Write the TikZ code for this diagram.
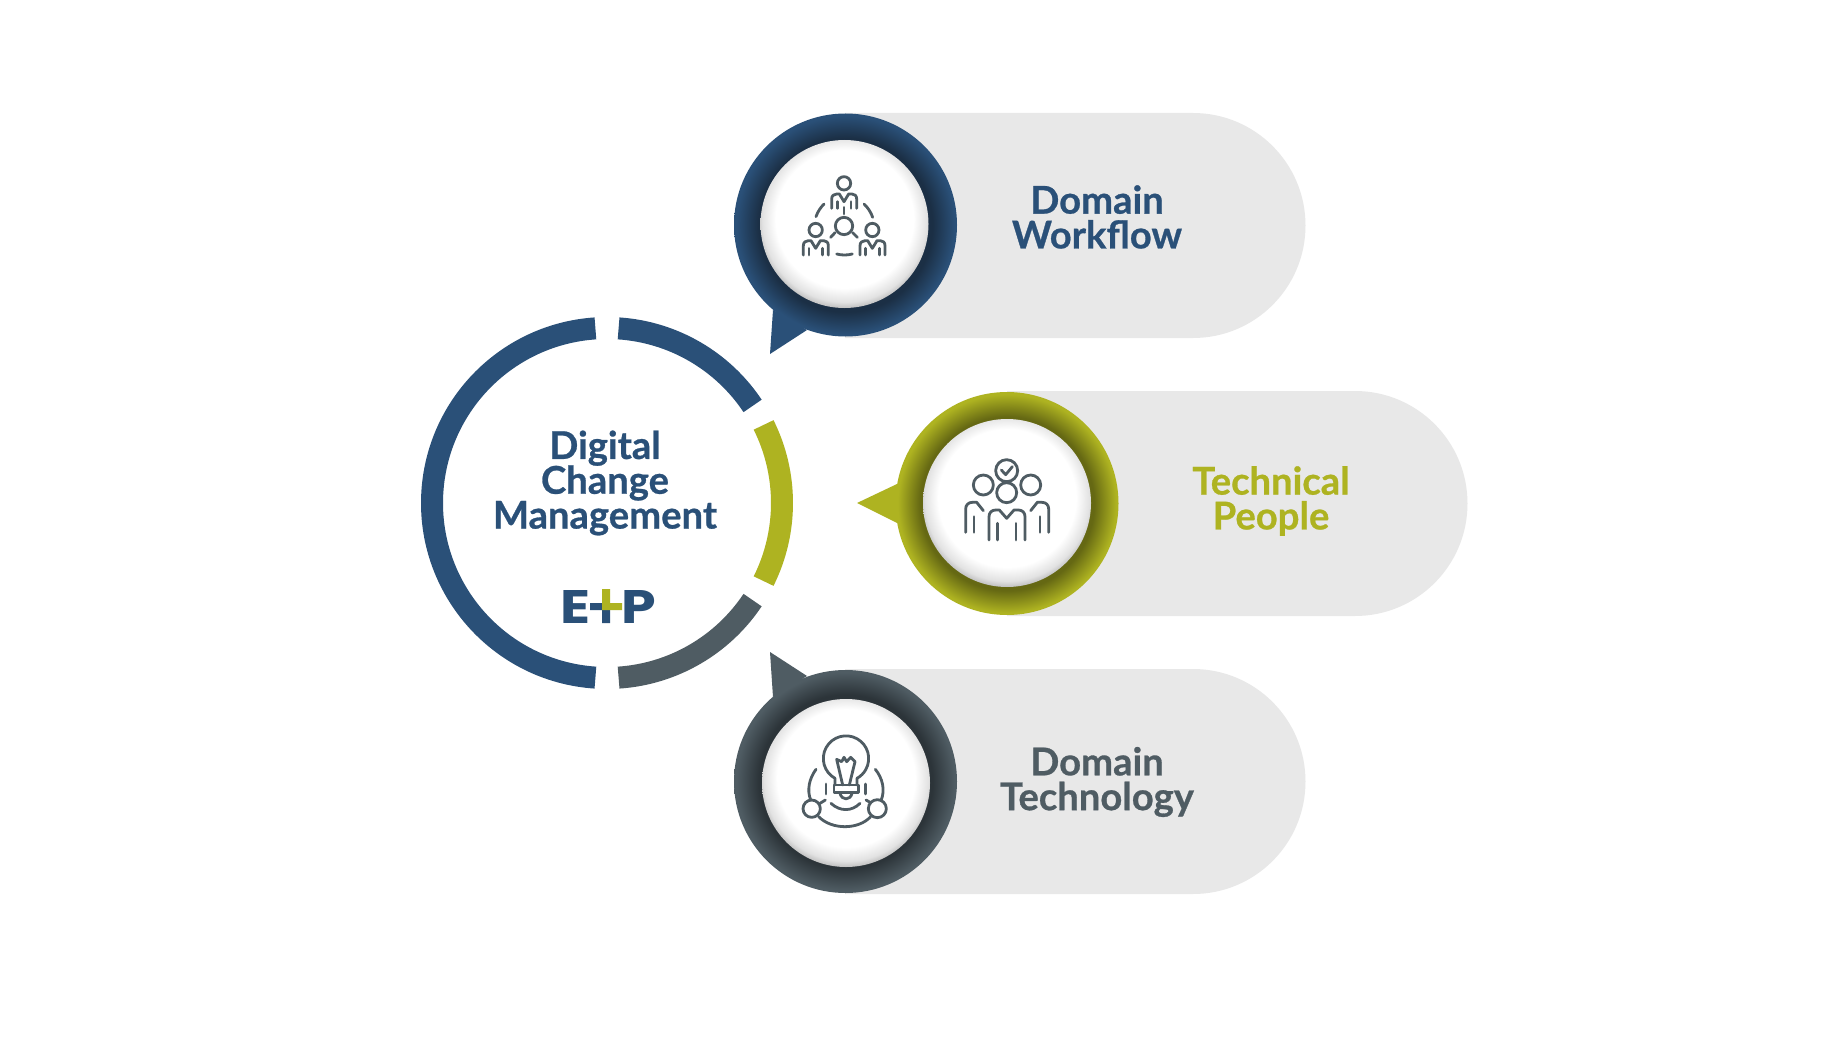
\documentclass[tikz,border=0pt]{standalone}
\usepackage{fontspec}
\setmainfont{Lato}[BoldFeatures={FakeBold=0.7}]
\newfontfamily\logofont{Poppins}[BoldFeatures={FakeStretch=1.18}]
\usetikzlibrary{shadings}
\newcommand{\tightlines}{\setlength{\lineskiplimit}{-50pt}}
\definecolor{navy}{HTML}{2A5078}
\definecolor{navyd}{HTML}{1B2F45}
\definecolor{olive}{HTML}{AEB321}
\definecolor{olived}{HTML}{656813}
\definecolor{slate}{HTML}{4F5C63}
\definecolor{slated}{HTML}{2C3439}
\definecolor{pillgray}{HTML}{E8E8E8}
\definecolor{iconc}{HTML}{4F5C63}
\pgfdeclareradialshading{ringnavy}{\pgfpoint{0bp}{0bp}}{color(0bp)=(navyd);color(19.5bp)=(navyd);color(24.5bp)=(navy);color(50bp)=(navy)}
\pgfdeclareradialshading{ringolive}{\pgfpoint{0bp}{0bp}}{color(0bp)=(olived);color(19.5bp)=(olived);color(24.5bp)=(olive);color(50bp)=(olive)}
\pgfdeclareradialshading{ringslate}{\pgfpoint{0bp}{0bp}}{color(0bp)=(slated);color(19.5bp)=(slated);color(24.5bp)=(slate);color(50bp)=(slate)}
\definecolor{ballm}{HTML}{E2E2E2}
\definecolor{ballo}{HTML}{A6A6A6}
\pgfdeclareradialshading{ball}{\pgfpoint{0bp}{2.5bp}}{color(0bp)=(white);color(20.5bp)=(white);color(24.5bp)=(ballm);color(27.5bp)=(ballo);color(50bp)=(ballo)}
\tikzset{
  pill/.style={fill=pillgray,draw=none},
  ringshape/.style={circle,inner sep=0pt,minimum size=111.5pt,draw=none},
  ballshape/.style={circle,inner sep=0pt,minimum size=84pt,draw=none,shading=ball},
  seg/.style={line width=11pt,line cap=butt},
  lab/.style={align=center,inner sep=0pt,font=\fontsize{19.1}{17.4}\selectfont\bfseries\tightlines},
  logo/.style={inner sep=0pt,anchor=base,text=navy,font=\logofont\fontsize{23.5}{24}\selectfont\bfseries},
  icon/.style={draw=iconc,line width=1.4pt,line cap=round,line join=round},
  personone/.pic={
    \draw[icon] (0,0) circle (20);
    \draw[icon] (-37,75) -- (-37,47) .. controls (-37,37) and (-30,32) .. (-22,32) -- (-14,32) -- (0,55) -- (14,32) -- (24,32) .. controls (32,32) and (38,37) .. (38,47) -- (38,75);
    \draw[icon] (-20,55) -- (-20,75) (21,55) -- (21,75);
  }
}
\begin{document}
\begin{tikzpicture}[x=.5pt,y=-.5pt]
\useasboundingbox[fill=white] (0,0) rectangle (1847,1038);
% central ring
\coordinate (hub) at (607,503);
\draw[seg,navy] (hub) ++(-86.2:175) arc[start angle=-86.2,end angle=-33.7,radius=175];
\draw[seg,olive] (hub) ++(-26.5:175) arc[start angle=-26.5,end angle=26.5,radius=175];
\draw[seg,slate] (hub) ++(33.7:175) arc[start angle=33.7,end angle=86.2,radius=175];
\draw[seg,navy] (hub) ++(93.8:175) arc[start angle=93.8,end angle=266.2,radius=175];
\node[lab,text=navy] (hubtext) at (605,483) {Digital\\Change\\Management};
% logo
\node[logo] (logoe) at (575.5,623) {E};
\node[logo] (logop) at (639,623) {P};
\fill[navy] (590,603) rectangle (603,610) (602,610) rectangle (610,623);
\fill[olive] (602,589) rectangle (610,610) (602,603) rectangle (622,610);
% pills
\fill[pill] (845,113) -- (1193,113) arc[start angle=-90,end angle=90,radius=112.5] -- (845,338) -- cycle;
\fill[pill] (1007,391) -- (1355,391) arc[start angle=-90,end angle=90,radius=112.5] -- (1007,616) -- cycle;
\fill[pill] (845,669) -- (1193,669) arc[start angle=-90,end angle=90,radius=112.5] -- (845,894) -- cycle;
% tails
\fill[navy] (773,310) -- (770,354) -- (807,330) -- cycle;
\fill[olive] (897,484) -- (857,503) -- (897,523) -- cycle;
\fill[slate] (773,697) -- (770,652) -- (807,676) -- cycle;
% discs
\node[ringshape,shading=ringnavy] (wfring) at (845.5,225) {};
\node[ballshape] (wfball) at (844.5,224) {};
\node[ringshape,shading=ringolive] (tpring) at (1007,503.5) {};
\node[ballshape] (tpball) at (1007,503) {};
\node[ringshape,shading=ringslate] (dtring) at (845.5,781.5) {};
\node[ballshape] (dtball) at (846,783) {};
% labels
\node[lab,text=navy] (wflabel) at (1097,217) {Domain\\Workflow};
\node[lab,text=olive] (tplabel) at (1271,501) {Technical\\People};
\node[lab,text=slate] (dtlabel) at (1097,782) {Domain\\Technology};
% icon 1
\begin{scope}[shift={(720,100)},x=.16667pt,y=-.16667pt]
\pic at (372,250) {personone};
\pic at (287,390) {personone};
\pic at (457,390) {personone};
\draw[icon] (372,322) -- (372,342);
\draw[icon] (372,378) circle (26);
\draw[icon] (288,350) .. controls (293,335) and (302,322) .. (312,312);
\draw[icon] (432,312) .. controls (443,322) and (453,337) .. (458,352);
\draw[icon] (332,412) -- (345,398) (398,398) -- (412,412);
\draw[icon] (350,462) .. controls (365,466) and (382,466) .. (397,462);
\end{scope}
% icon 2
\begin{scope}[shift={(840,380)},x=.16667pt,y=-.16667pt]
\draw[icon] (500,272) circle (33);
\draw[icon] (484,270) -- (497,284) -- (517,260);
\draw[icon] (430,315) circle (30) (572,315) circle (30) (500,338) circle (30);
\draw[icon] (447,480) -- (447,410) .. controls (447,398) and (455,390) .. (467,390) -- (478,390) -- (500,415) -- (522,390) -- (535,390) .. controls (547,390) and (555,398) .. (555,410) -- (555,480);
\draw[icon] (472,430) -- (472,480) (528,430) -- (528,480);
\draw[icon] (377,457) -- (377,387) .. controls (377,375) and (385,367) .. (397,367) -- (410,367) -- (430,392);
\draw[icon] (402,410) -- (402,457);
\draw[icon] (626,457) -- (626,387) .. controls (626,375) and (618,367) .. (606,367) -- (592,367) -- (572,392);
\draw[icon] (600,410) -- (600,457);
\end{scope}
% icon 3
\begin{scope}[shift={(720,640)},x=.16667pt,y=-.16667pt]
\draw[icon] (345,435) -- (345,415) arc[start angle=119,end angle=421,radius=68] -- (411,435);
\draw[icon] (342,435) -- (415,435) -- (415,458) -- (342,458) -- cycle;
\draw[icon] (360,460) .. controls (365,482) and (391,482) .. (396,460);
\draw[icon] (368,435) -- (350,358) -- (365,365) -- (372,352) -- (380,365) -- (392,352) -- (405,365) -- (388,435);
\draw[icon] (288,388) .. controls (268,415) and (260,450) .. (272,480);
\draw[icon] (466,388) .. controls (488,415) and (496,450) .. (483,482);
\draw[icon] (318,432) -- (318,462) (436,432) -- (436,462);
\draw[icon] (333,490) .. controls (360,515) and (395,515) .. (420,490);
\draw[icon] (275,506) circle (26) (472,506) circle (27);
\draw[icon] (296,530) .. controls (335,570) and (415,570) .. (452,530);
\draw[icon] (300,490) -- (316,480) (438,480) -- (452,488);
\end{scope}
\end{tikzpicture}
\end{document}
